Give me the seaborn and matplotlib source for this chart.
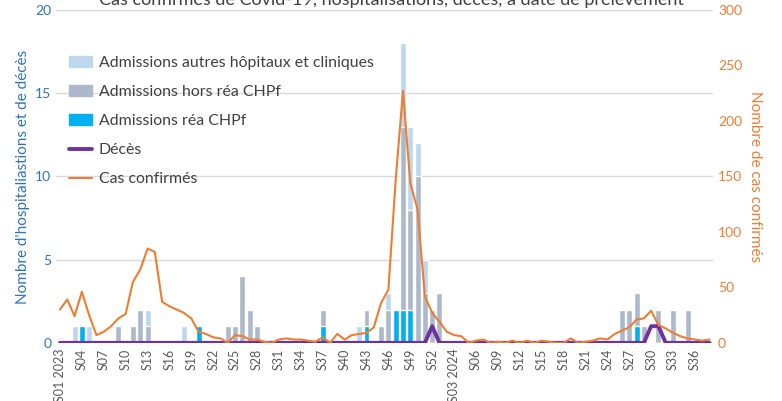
import numpy as np
import pandas as pd
import seaborn as sns
import matplotlib.pyplot as plt
from matplotlib.patches import Patch
from matplotlib.lines import Line2D

# weekly data, S01 2023 -> S38 2024
weeks = ["S%02d 2023" % w for w in range(1, 53)] + ["S%02d 2024" % w for w in range(1, 39)]

rea = [0, 0, 0, 1, 0, 0, 0, 0, 0, 0,
       0, 0, 0, 0, 0, 0, 0, 0, 0, 1,
       0, 0, 0, 0, 0, 0, 0, 0, 0, 0,
       0, 0, 0, 0, 0, 0, 1, 0, 0, 0,
       0, 0, 1, 0, 0, 0, 2, 2, 2, 0,
       0, 0, 0, 0, 0, 0, 0, 0, 0, 0,
       0, 0, 0, 0, 0, 0, 0, 0, 0, 0,
       0, 0, 0, 0, 0, 0, 0, 0, 0, 1,
       0, 0, 0, 0, 0, 0, 0, 0, 0, 0]

hors_rea = [0, 0, 0, 0, 0, 0, 0, 0, 1, 0,
            1, 2, 1, 0, 0, 0, 0, 0, 0, 0,
            0, 0, 0, 1, 1, 4, 2, 1, 0, 0,
            0, 0, 0, 0, 0, 0, 1, 0, 0, 0,
            0, 0, 1, 0, 1, 2, 0, 11, 6, 10,
            3, 2, 3, 0, 0, 0, 0, 0, 0, 0,
            0, 0, 0, 0, 0, 0, 0, 0, 0, 0,
            0, 0, 0, 0, 0, 0, 0, 2, 2, 2,
            1, 0, 2, 0, 2, 0, 2, 0, 0, 0]

autres = [0, 0, 1, 0, 1, 0, 0, 0, 0, 0,
          0, 0, 1, 0, 0, 0, 0, 1, 0, 0,
          0, 0, 0, 0, 0, 0, 0, 0, 0, 0,
          0, 0, 0, 0, 0, 0, 0, 0, 0, 0,
          0, 1, 0, 0, 0, 1, 0, 5, 5, 2,
          2, 0, 0, 0, 0, 0, 0, 0, 0, 0,
          0, 0, 0, 0, 0, 0, 0, 0, 0, 0,
          0, 0, 0, 0, 0, 0, 0, 0, 0, 0,
          0, 0, 0, 0, 0, 0, 0, 0, 0, 0]

deces = [0, 0, 0, 0, 0, 0, 0, 0, 0, 0,
         0, 0, 0, 0, 0, 0, 0, 0, 0, 0,
         0, 0, 0, 0, 0, 0, 0, 0, 0, 0,
         0, 0, 0, 0, 0, 0, 0, 0, 0, 0,
         0, 0, 0, 0, 0, 0, 0, 0, 0, 0,
         0, 1, 0, 0, 0, 0, 0, 0, 0, 0,
         0, 0, 0, 0, 0, 0, 0, 0, 0, 0,
         0, 0, 0, 0, 0, 0, 0, 0, 0, 0,
         0, 1, 1, 0, 0, 0, 0, 0, 0, 0]

cas = [30, 39, 24, 46, 25, 7, 10, 15, 22, 26,
       55, 66, 85, 82, 37, 33, 30, 27, 22, 10,
       8, 5, 4, 0, 7, 6, 3, 3, 1, 0,
       3, 4, 3, 3, 2, 1, 5, 0, 8, 3,
       7, 8, 9, 14, 36, 48, 147, 227, 144, 120,
       42, 27, 19, 10, 7, 6, 0, 2, 3, 0,
       1, 0, 2, 0, 2, 0, 2, 1, 0, 0,
       4, 0, 1, 2, 4, 3, 8, 11, 14, 21,
       22, 29, 16, 13, 9, 6, 4, 3, 2, 3]

tick_labels = ["S01 2023", "S04", "S07", "S10", "S13", "S16", "S19", "S22", "S25",
               "S28", "S31", "S34", "S37", "S40", "S43", "S46", "S49", "S52",
               "S03 2024", "S06", "S09", "S12", "S15", "S18", "S21", "S24", "S27",
               "S30", "S33", "S36"]

df = pd.DataFrame({"semaine": weeks, "rea": rea, "hors_rea": hors_rea,
                   "autres": autres, "deces": deces, "cas": cas})
df["pos"] = np.arange(len(df))
df["chpf"] = df["rea"] + df["hors_rea"]
df["total"] = df["chpf"] + df["autres"]

c_autres = "#BDD7EE"
c_hors = "#ADB9CA"
c_rea = "#00B0F0"
c_deces = "#7030A0"
c_cas = "#ED7D31"
c_left = "#2E75B6"
c_text = "#404040"

sns.set_style("white")
plt.rcParams["font.family"] = ["Lato", "DejaVu Sans"]

fig = plt.figure(figsize=(7.82, 4.01), dpi=100)
ax = fig.add_axes([0.072, 0.145, 0.84, 0.83])

# stacked bars drawn back to front
for col, c in [("total", c_autres), ("chpf", c_hors), ("rea", c_rea)]:
    sns.barplot(data=df, x="pos", y=col, color=c, saturation=1, width=0.82,
                native_scale=True, orient="x", ax=ax, zorder=2)

sns.lineplot(data=df, x="pos", y="deces", color=c_deces, lw=2.8, ax=ax, zorder=3)

ax.set_ylim(0, 20)
ax.set_yticks([0, 5, 10, 15, 20])
ax.set_xlim(-0.5, 89.5)
ax.set_xticks(np.arange(0, 90, 3))
ax.set_xticklabels(tick_labels, rotation=90, fontsize=9, color="#595959")
ax.tick_params(axis="y", colors=c_left, labelsize=10, length=0)
ax.tick_params(axis="x", length=0, pad=4)
ax.yaxis.grid(True, color="#D9D9D9", lw=1)
ax.set_axisbelow(True)
ax.set_xlabel("")
ax.set_ylabel("Nombre d'hospitaliastions et de décès", color=c_left, fontsize=11)
sns.despine(ax=ax, left=True, bottom=True)

ax2 = ax.twinx()
sns.lineplot(data=df, x="pos", y="cas", color=c_cas, lw=1.5, ax=ax2)
ax2.set_ylim(0, 300)
ax2.set_yticks(np.arange(0, 301, 50))
ax2.tick_params(axis="y", colors=c_cas, labelsize=10, length=0)
ax2.set_ylabel("Nombre de cas confirmés", color=c_cas, fontsize=11, rotation=-90, labelpad=14)
ax2.set_xlabel("")
for s in ax2.spines.values():
    s.set_visible(False)

handles = [Patch(color=c_autres), Patch(color=c_hors), Patch(color=c_rea),
           Line2D([], [], color=c_deces, lw=2.8), Line2D([], [], color=c_cas, lw=1.5)]
labels = ["Admissions autres hôpitaux et cliniques", "Admissions hors réa CHPf",
          "Admissions réa CHPf", "Décès", "Cas confirmés"]
leg = ax2.legend(handles, labels, loc="upper left", bbox_to_anchor=(-0.003, 0.905),
                 frameon=False, fontsize=11.4, labelspacing=0.95, handlelength=1.45,
                 handletextpad=0.45)
for t in leg.get_texts():
    t.set_color(c_text)

fig.text(0.5, 1.0, "Cas confirmés de Covid-19, hospitalisations, décès, à date de prélèvement",
         ha="center", va="center", fontsize=13, color=c_text)

fig.savefig("out.png", dpi=100)
